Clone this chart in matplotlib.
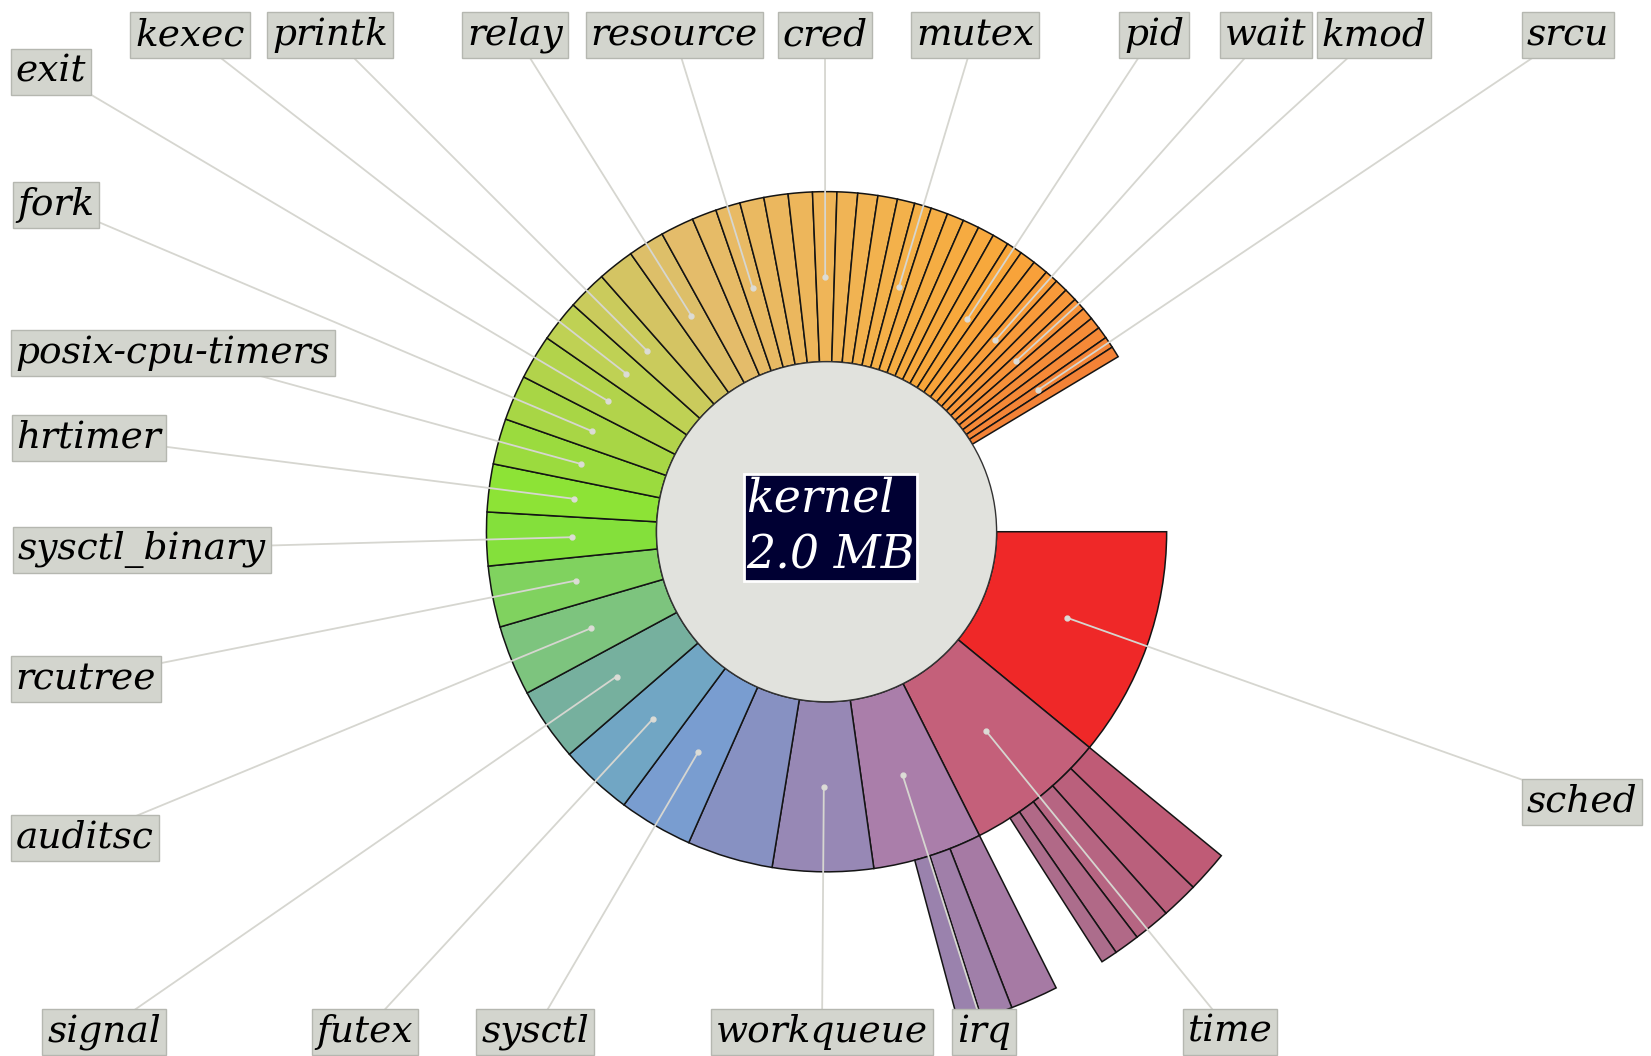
import numpy as np
import matplotlib.pyplot as plt
from matplotlib.patches import Wedge, Circle
from matplotlib.colors import to_rgb, to_hex

root_name = "kernel"
root_size = "2.0 MB"
total_kb = 2048.0

# first ring, largest first, sizes in KB ('' = no label)
names = ["sched", "time", "irq", "workqueue", "", "sysctl", "futex", "signal",
         "auditsc", "rcutree", "sysctl_binary", "hrtimer", "posix-cpu-timers",
         "fork", "exit", "kexec", "printk", "", "relay", "", "", "resource",
         "", "", "", "cred", "", "", "", "", "mutex", "", "", "", "", "",
         "pid", "", "", "wait", "", "", "kmod", "", "", "", "srcu", ""]
sizes = [224, 136, 106.5, 98, 83.5, 72, 71.5, 71.5, 68.5, 59.5,
         52, 46.5, 44.5, 44, 43.5, 40.5, 38.5, 35.5, 35.5, 32.5,
         24, 24, 23.5, 23.5, 23.5, 23.5, 20, 19.5, 19,
         17, 16.5, 16.5, 16.5, 16, 16, 16, 15.5, 15.5, 15,
         13, 12.5, 12.5, 12, 12, 11.5, 11.5, 11, 10.8]

# second ring
time_children = [27, 24, 24, 16.5, 10.8]
irq_children = [31, 20.5, 15]

# ---- styling ----
S = 1651 / 1568
W, H = 1651, 1056
CX, CY = 785 * S, H - 505 * S
R0, R1, R2 = 161.5 * S, 323 * S, 485 * S

first_colors = ["#ef2828", "#c4607a", "#aa7eaa", "#9788b5", "#8791c2", "#799dd0",
                "#71a6c4", "#76b09e", "#7dc47e", "#80d25f", "#84e03b", "#8de336",
                "#9bdb3e", "#a8d645", "#b2d34b", "#bfd154", "#cacb5c", "#d4c463",
                "#ddbf69", "#e4bc6a"]
anchors = [(19, "#e4bc6a"), (25, "#efb558"), (30, "#f4b048"), (36, "#f8a63a"),
           (41, "#f8973a"), (47, "#f38236")]
colors = list(first_colors)
ai = np.array([a[0] for a in anchors], float)
ac = np.array([to_rgb(a[1]) for a in anchors])
for i in range(len(first_colors), len(sizes)):
    colors.append(to_hex([np.interp(i, ai, ac[:, k]) for k in range(3)]))
time_colors = ["#bf5b76", "#ba607c", "#b66582", "#b16987", "#ac6d8c"]
irq_colors = ["#a67aa4", "#a07fa9", "#9a82ad"]

# label centers (pixels from top-left)
label_pos = {
    "kexec": (190, 34), "printk": (330, 34), "relay": (515, 34),
    "resource": (674, 34), "cred": (825, 34), "mutex": (975, 34),
    "pid": (1154, 34), "wait": (1266, 34), "kmod": (1374, 34),
    "srcu": (1568, 34), "exit": (51, 71),
    "fork": (56, 204), "posix-cpu-timers": (173, 352), "hrtimer": (89, 437),
    "sysctl_binary": (142, 549), "rcutree": (86, 678), "auditsc": (85, 837),
    "signal": (104, 1031), "futex": (365, 1031), "sysctl": (535, 1031),
    "workqueue": (822, 1031), "irq": (984, 1031), "time": (1230, 1031),
    "sched": (1582, 801),
}

deg_per_kb = 360.0 / total_kb

fig = plt.figure(figsize=(W / 100, H / 100), dpi=100)
ax = fig.add_axes([0, 0, 1, 1])
ax.set_xlim(0, W)
ax.set_ylim(0, H)
ax.axis("off")

edge = dict(edgecolor="#141414", linewidth=1.1)

starts = {}
pos = 0.0
dots = {}
for name, size, col in zip(names, sizes, colors):
    a0, a1 = pos, pos + size * deg_per_kb
    ax.add_patch(Wedge((CX, CY), R1, -a1, -a0, width=R1 - R0, facecolor=col,
                       zorder=2, **edge))
    starts[name] = a0
    if name:
        mid = np.radians(-(a0 + a1) / 2)
        rm = (R0 + R1) / 2
        dots[name] = (CX + rm * np.cos(mid), CY + rm * np.sin(mid))
    pos = a1

for parent, kids, cols in [("time", time_children, time_colors),
                           ("irq", irq_children, irq_colors)]:
    pos = starts[parent]
    for size, col in zip(kids, cols):
        a0, a1 = pos, pos + size * deg_per_kb
        ax.add_patch(Wedge((CX, CY), R2, -a1, -a0, width=R2 - R1,
                           facecolor=col, zorder=2, **edge))
        pos = a1

ax.add_patch(Circle((CX, CY), R0, facecolor="#e1e2dd", edgecolor="#333333",
                    linewidth=1.0, zorder=3))

font = dict(family="DejaVu Serif", style="italic")
for name, (lx, ly) in label_pos.items():
    dx, dy = dots[name]
    ly = H - ly
    ax.plot([lx, dx], [ly, dy], color="#d6d6d0", linewidth=1.3, zorder=4,
            solid_capstyle="round")
    ax.plot(dx, dy, "o", ms=3.5, color="#dcdcd6", zorder=5)
    ax.text(lx, ly - 1, name, ha="center", va="center", fontsize=27,
            color="black", zorder=6,
            bbox=dict(boxstyle="square,pad=0.13", facecolor="#d3d5ce",
                      edgecolor="#b5b7b0", linewidth=1.0), **font)

ax.text(CX + 4 * S, CY + 4 * S, f"{root_name}\n{root_size}", ha="center",
        va="center", multialignment="left", fontsize=33, color="white",
        linespacing=1.32, zorder=7,
        bbox=dict(boxstyle="square,pad=0.05", facecolor="#000033",
                  edgecolor="white", linewidth=2.0), **font)

fig.savefig("out.png", dpi=100)
